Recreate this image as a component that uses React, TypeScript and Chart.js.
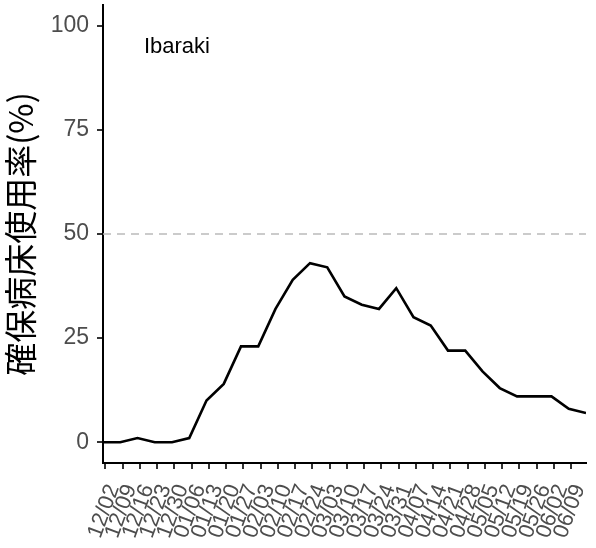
import React, { useEffect, useRef } from 'react';
import { Chart, registerables } from 'chart.js';

Chart.register(...registerables);

// Weekly bed occupancy (%) for Ibaraki, first point on 12/01
const occupancy = [0, 0, 1, 0, 0, 1, 10, 14, 23, 23, 32, 39, 43, 42, 35, 33, 32, 37, 30, 28, 22, 22, 17, 13, 11, 11, 11, 8, 7];
// x tick labels (one per week, starting one day after the first data point)
const tickLabels = [
  '12/02', '12/09', '12/16', '12/23', '12/30', '01/06', '01/13', '01/20', '01/27',
  '02/03', '02/10', '02/17', '02/24', '03/03', '03/10', '03/17', '03/24', '03/31',
  '04/07', '04/14', '04/21', '04/28', '05/05', '05/12', '05/19', '05/26', '06/02', '06/09',
];
const tickOffsetDays = 1;
const daysPerWeek = 7;
const yTicks = [0, 25, 50, 75, 100];
const yMin = -5;
const yMax = 105;
const referenceLevel = 50;
const yTitle = '確保病床使用率(%)';
const panelLabel = 'Ibaraki';
const panelLabelDay = 30;
const panelLabelValue = 95;

const LATIN = "'Liberation Sans', Arial, sans-serif";
const CJK = "'Noto Sans CJK JP', 'Liberation Sans', sans-serif";

export default function App() {
  const ref = useRef<HTMLCanvasElement | null>(null);

  useEffect(() => {
    if (!ref.current) return;
    const points = occupancy.map((v, i) => ({ x: i * daysPerWeek, y: v }));
    const tickDays = tickLabels.map((_, k) => tickOffsetDays + k * daysPerWeek);
    const lastDay = (occupancy.length - 1) * daysPerWeek;

    const overlay = {
      id: 'overlay',
      beforeDatasetsDraw(chart: any) {
        const { ctx, chartArea, scales } = chart;
        const y = scales.y.getPixelForValue(referenceLevel);
        ctx.save();
        ctx.strokeStyle = '#bababa';
        ctx.lineWidth = 1.7;
        ctx.setLineDash([8, 6]);
        ctx.beginPath();
        ctx.moveTo(chartArea.left, y);
        ctx.lineTo(chartArea.right, y);
        ctx.stroke();
        ctx.restore();
      },
      afterDraw(chart: any) {
        const { ctx, scales } = chart;
        ctx.save();
        ctx.fillStyle = '#000';
        ctx.font = `22px ${LATIN}`;
        ctx.textAlign = 'center';
        ctx.textBaseline = 'middle';
        ctx.fillText(panelLabel, scales.x.getPixelForValue(panelLabelDay), scales.y.getPixelForValue(panelLabelValue));
        ctx.restore();
      },
    };

    const chart = new Chart(ref.current, {
      type: 'line',
      data: {
        datasets: [
          {
            data: points,
            borderColor: '#000',
            borderWidth: 2.6,
            pointRadius: 0,
            fill: false,
            tension: 0,
          },
        ],
      },
      options: {
        animation: false,
        responsive: true,
        maintainAspectRatio: false,
        layout: { padding: { top: 5, right: 10, left: 0, bottom: 0 } },
        plugins: { legend: { display: false }, tooltip: { enabled: false } },
        scales: {
          x: {
            type: 'linear',
            min: 0,
            max: lastDay,
            afterBuildTicks: (scale: any) => {
              scale.ticks = tickDays.map((v) => ({ value: v }));
            },
            afterFit: (scale: any) => {
              scale.height = 85;
              scale.paddingLeft = 0;
              scale.paddingRight = 0;
            },
            ticks: {
              autoSkip: false,
              minRotation: 70,
              maxRotation: 70,
              padding: 12,
              labelOffset: 8,
              color: '#4d4d4d',
              font: { family: LATIN, size: 22 },
              callback: (_v: any, i: number) => tickLabels[i],
            },
            grid: { drawOnChartArea: false, drawTicks: true, tickLength: 6, color: '#333', lineWidth: 2 },
            border: { display: true, color: '#000', width: 2 },
          },
          y: {
            min: yMin,
            max: yMax,
            afterBuildTicks: (scale: any) => {
              scale.ticks = yTicks.map((v) => ({ value: v }));
            },
            afterFit: (scale: any) => {
              scale.width = 103;
              scale.paddingTop = 0;
              scale.paddingBottom = 0;
            },
            ticks: {
              padding: 8,
              color: '#4d4d4d',
              font: { family: LATIN, size: 23 },
            },
            title: {
              display: true,
              text: yTitle,
              color: '#000',
              font: { family: CJK, size: 33 },
              padding: { top: 1, bottom: 0 },
            },
            grid: { drawOnChartArea: false, drawTicks: true, tickLength: 6, color: '#333', lineWidth: 2 },
            border: { display: true, color: '#000', width: 2 },
          },
        },
      },
      plugins: [overlay],
    });
    return () => chart.destroy();
  }, []);

  return (
    <div style={{ position: 'absolute', left: 0, top: 0, width: 596, height: 548, background: '#fff' }}>
      <canvas ref={ref} />
    </div>
  );
}
